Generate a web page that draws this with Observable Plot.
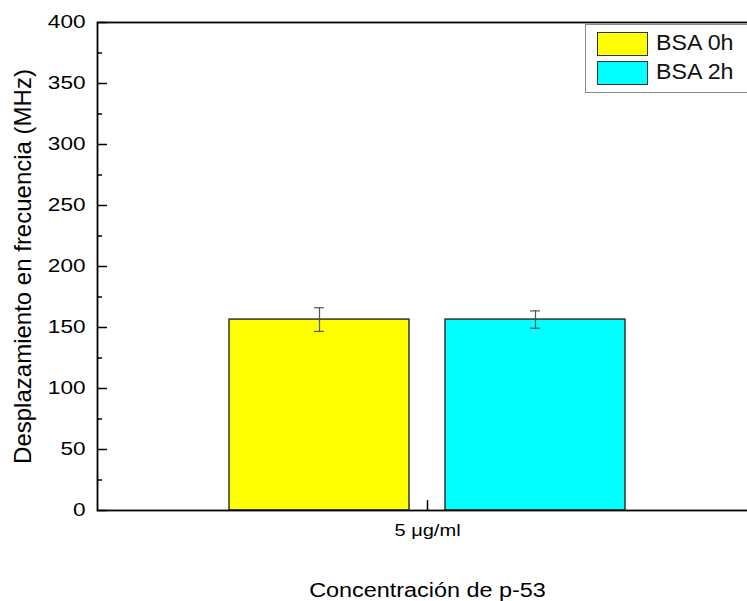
<!DOCTYPE html>
<html>
<head>
<meta charset="utf-8">
<script src="https://cdn.jsdelivr.net/npm/d3@7"></script>
<script src="https://cdn.jsdelivr.net/npm/@observablehq/plot@0.6"></script>
<style>
  html, body { margin: 0; padding: 0; background: white; overflow: hidden; }
  #wrap { position: relative; width: 747px; height: 601px; overflow: hidden; }
  .legend { position: absolute; left: 585px; top: 24px; width: 180px; height: 69px;
            border: 1px solid #8a8a8a; background: white; box-sizing: border-box;
            font-family: "Liberation Sans", Arial, sans-serif; font-size: 21.5px; color: #111; }
  .item { position: absolute; left: 11px; height: 25px; display: flex; align-items: center; }
  .sw { width: 49px; height: 22px; border: 1.5px solid #333; margin-right: 8px; }
  .lab { display: inline-block; transform: scaleX(1.08); transform-origin: left center; }
</style>
</head>
<body>
<div id="wrap"></div>
<script>
// ---- data ----
const concentration = ["5 μg/ml"];
const series = ["BSA 0h", "BSA 2h"];
const means = [156.5, 156.5];
const errors = [9.7, 7.1];
const colors = ["#ffff00", "#00ffff"];
const yTicks = [0, 50, 100, 150, 200, 250, 300, 350, 400];
const yMinor = [25, 75, 125, 175, 225, 275, 325, 375];
const xTitle = "Concentración de p-53";
const yTitle = "Desplazamiento en frecuencia (MHz)";

const rows = series.map((s, i) => ({conc: concentration[0], series: s, mean: means[i], err: errors[i]}));

const errStyle = {stroke: "#555", strokeWidth: 1.2};

const chart = Plot.plot({
  width: 747,
  height: 601,
  marginLeft: 97,
  marginRight: -10,
  marginTop: 22,
  marginBottom: 91,
  style: {fontFamily: "'Liberation Sans', Arial, sans-serif", color: "black", background: "white"},
  fx: {domain: concentration, padding: 0},
  x: {domain: series, paddingInner: 1/6, paddingOuter: 0.611, axis: null},
  y: {domain: [0, 400]},
  color: {domain: series, range: colors},
  marks: [
    Plot.barY(rows, {fx: "conc", x: "series", y: "mean", fill: "series", stroke: "#333", strokeWidth: 1.5}),
    Plot.ruleX(rows, {fx: "conc", x: "series", y1: d => d.mean - d.err, y2: d => d.mean + d.err, ...errStyle}),
    Plot.tickY(rows, {fx: "conc", x: "series", y: d => d.mean + d.err, insetLeft: 85, insetRight: 85, ...errStyle}),
    Plot.tickY(rows, {fx: "conc", x: "series", y: d => d.mean - d.err, insetLeft: 85, insetRight: 85, ...errStyle}),
    Plot.axisY(yMinor, {tickSize: -5, tickFormat: () => "", label: null, strokeWidth: 1.5}),
    Plot.axisY(yTicks, {tickSize: -10, tickPadding: 22, fontSize: 18.5, label: yTitle, labelAnchor: "center", labelOffset: 84, labelArrow: "none", strokeWidth: 1.5}),
    Plot.axisFx({anchor: "bottom", tickSize: -10, tickPadding: 23, fontSize: 17, label: xTitle, labelAnchor: "center", labelOffset: 86.5, labelArrow: "none", strokeWidth: 1.5}),
    Plot.frame({stroke: "black", strokeWidth: 1.8})
  ]
});

const wrap = document.getElementById("wrap");
wrap.appendChild(chart);

// label font sizes
d3.select(chart).selectAll('g[aria-label="y-axis label"]').attr("font-size", 24);
d3.select(chart).selectAll('g[aria-label="fx-axis label"]').attr("font-size", 19.5);

// widen unrotated text to match the reference's wide lettering
function stretch(sel, k) {
  chart.querySelectorAll(sel).forEach(t => {
    const w = t.getComputedTextLength();
    if (w > 0) {
      t.setAttribute("textLength", w * k);
      t.setAttribute("lengthAdjust", "spacingAndGlyphs");
    }
  });
}
stretch('g[aria-label="y-axis tick label"] text', 1.22);
stretch('g[aria-label="fx-axis tick label"] text', 1.18);
stretch('g[aria-label="fx-axis label"] text', 1.2);

// legend
const legend = document.createElement("div");
legend.className = "legend";
series.forEach((s, i) => {
  const item = document.createElement("div");
  item.className = "item";
  item.style.top = (6 + i * 29) + "px";
  const sw = document.createElement("div");
  sw.className = "sw";
  sw.style.background = colors[i];
  const lab = document.createElement("span");
  lab.className = "lab";
  lab.textContent = s;
  item.appendChild(sw);
  item.appendChild(lab);
  legend.appendChild(item);
});
wrap.appendChild(legend);
</script>
</body>
</html>
